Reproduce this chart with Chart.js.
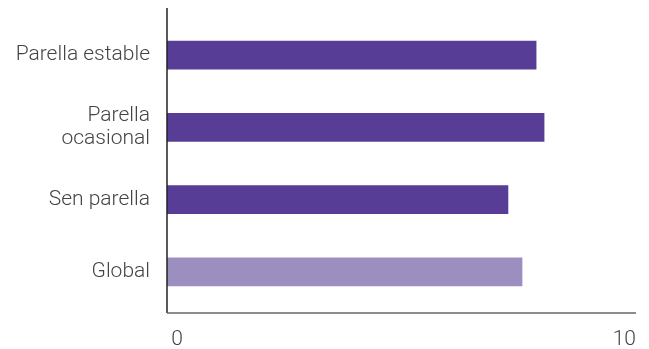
<!DOCTYPE html>
<html>
<head>
<meta charset="utf-8">
<script src="https://cdn.jsdelivr.net/npm/chart.js@4"></script>
<style>
  html, body { margin: 0; padding: 0; background: #fff; }
  #wrap { width: 649px; height: 349px; }
</style>
</head>
<body>
<div id="wrap"><canvas id="chartParella" width="649" height="349"></canvas></div>
<script>
// Categorías e valores
const categorias = [['Parella estable'], ['Parella', 'ocasional'], ['Sen parella'], ['Global']];
const valores = [7.87, 8.04, 7.27, 7.57];
const coresBarras = ['#573d95', '#573d95', '#573d95', '#9c8fbf'];
const ticksX = [0, 10];

// Liñas dos eixos (un pouco máis longas cá área do gráfico)
const eixos = {
    id: 'eixos',
    afterDraw(chart) {
        const ctx = chart.ctx;
        const area = chart.chartArea;
        const x = chart.scales.x;
        ctx.save();
        ctx.lineWidth = 1.5;
        ctx.strokeStyle = '#222';
        ctx.beginPath();
        ctx.moveTo(area.left, area.top - 11);
        ctx.lineTo(area.left, area.bottom + 5);
        ctx.stroke();
        ctx.strokeStyle = '#666';
        ctx.beginPath();
        ctx.moveTo(area.left, area.bottom + 5);
        ctx.lineTo(x.getPixelForValue(10), area.bottom + 5);
        ctx.stroke();
        ctx.restore();
    }
};

const canvas = document.getElementById('chartParella');
new Chart(canvas, {
    type: 'bar',
    data: {
        labels: categorias,
        datasets: [{
            data: valores,
            backgroundColor: coresBarras,
            borderWidth: 0,
            barThickness: 28
        }]
    },
    options: {
        indexAxis: 'y',
        responsive: false,
        animation: false,
        layout: { padding: { top: 19, right: 13, left: 0, bottom: 0 } },
        plugins: {
            legend: { display: false },
            tooltip: { enabled: false }
        },
        scales: {
            x: {
                min: 0,
                max: 10,
                afterBuildTicks(scale) {
                    scale.ticks = ticksX.map(v => ({ value: v }));
                },
                afterFit(scale) {
                    scale.height = 41;
                    scale.paddingLeft = 0;
                    scale.paddingRight = 0;
                },
                grid: { display: false, drawTicks: false },
                border: { display: false },
                ticks: {
                    align: 'inner',
                    padding: 19,
                    color: '#444',
                    font: { family: 'Roboto', size: 21, weight: 300 },
                    callback: (v) => v === 0 ? '\u20090' : String(v)
                }
            },
            y: {
                afterFit(scale) {
                    scale.width = 167;
                    scale.paddingTop = 0;
                    scale.paddingBottom = 0;
                },
                grid: { display: false, drawTicks: false },
                border: { display: false },
                ticks: {
                    padding: 17,
                    color: '#444',
                    font: { family: 'Roboto', size: 21, weight: 300, lineHeight: 1.1 }
                }
            }
        }
    },
    plugins: [eixos]
});
</script>
</body>
</html>
